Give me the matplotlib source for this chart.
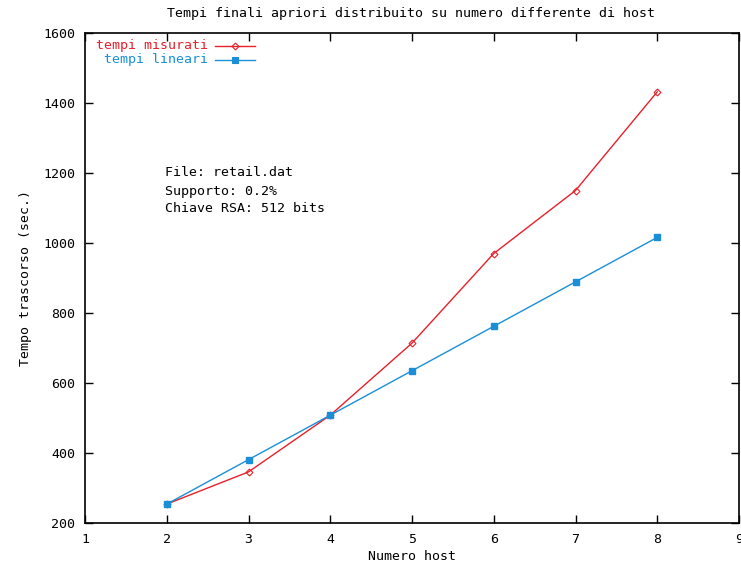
import matplotlib.pyplot as plt

# data
hosts = [2, 3, 4, 5, 6, 7, 8]
tempi_misurati = [254, 346, 508, 714, 970, 1150, 1432]
tempi_lineari = [254, 381, 508, 635, 762, 889, 1016]
xticks = [1, 2, 3, 4, 5, 6, 7, 8, 9]
yticks = [200, 400, 600, 800, 1000, 1200, 1400, 1600]

plt.rcParams['font.family'] = 'DejaVu Sans Mono'
fs = 9.5
red = '#e8202a'
blue = '#1a8fd8'

fig = plt.figure(figsize=(7.41, 5.66), dpi=100)
ax = fig.add_axes([85 / 741, 1 - 523 / 566, (739 - 85) / 741, (523 - 33) / 566])

ax.plot(hosts, tempi_misurati, color=red, lw=1, marker='D', ms=3.5,
        mfc='none', mec=red, mew=0.8)
ax.plot(hosts, tempi_lineari, color=blue, lw=1, marker='s', ms=4,
        mfc=blue, mec=blue)

ax.set_xlim(1, 9)
ax.set_ylim(200, 1600)
ax.set_xticks(xticks)
ax.set_yticks(yticks)
ax.tick_params(direction='in', length=6, width=1, top=True, right=True,
               labelsize=fs, pad=7)
ax.set_xticklabels([str(t) for t in xticks])
ax.set_yticklabels([str(t) for t in yticks])
for s in ax.spines.values():
    s.set_linewidth(1.2)

ax.set_xlabel('Numero host', fontsize=fs, labelpad=3)
ax.set_ylabel('Tempo trascorso (sec.)', fontsize=fs, labelpad=8)
fig.text(411 / 741, 1 - 14 / 566, 'Tempi finali apriori distribuito su numero differente di host',
         ha='center', va='center', fontsize=fs)

# legend, gnuplot style: right aligned text, sample line on the right
def px(x, y):
    return x / 741, 1 - y / 566

for label, col, mk, mfc, ms, yy in [('tempi misurati', red, 'D', 'none', 3.5, 46),
                                     ('tempi lineari', blue, 's', blue, 4, 60)]:
    fig.text(*px(208, yy), label, color=col, ha='right', va='center', fontsize=fs)
    x0, y0 = px(215, yy)
    x1, _ = px(255, yy)
    fig.add_artist(plt.Line2D([x0, x1], [y0, y0], color=col, lw=1, transform=fig.transFigure))
    fig.add_artist(plt.Line2D([(x0 + x1) / 2], [y0], color=col, marker=mk, ms=ms,
                              mfc=mfc, mec=col, mew=0.8, transform=fig.transFigure))

for i, line in enumerate(['File: retail.dat', 'Supporto: 0.2%', 'Chiave RSA: 512 bits']):
    fig.text(*px(165, 173 + i * 18), line, ha='left', va='center', fontsize=fs)

fig.savefig('out.png', dpi=100)
